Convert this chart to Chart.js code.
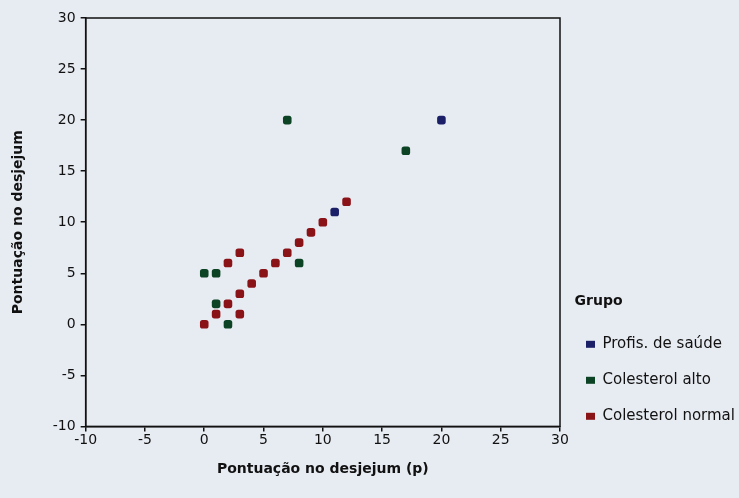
<!DOCTYPE html>
<html>
<head>
<meta charset="utf-8">
<script src="https://cdn.jsdelivr.net/npm/chart.js@4"></script>
<style>
  html, body { margin: 0; padding: 0; background: #e7ebf2; overflow: hidden; }
  #wrap { width: 739px; height: 498px; }
</style>
</head>
<body>
<div id="wrap"><canvas id="scatterChart"></canvas></div>
<script>
const groupNames = ['Profis. de saúde', 'Colesterol alto', 'Colesterol normal'];
const groupColors = ['#1b1f68', '#0c4324', '#8a1318'];

const profisX = [11, 20];
const profisY = [11, 20];
const altoX = [7, 17, 0, 1, 1, 2, 8];
const altoY = [20, 17, 5, 5, 2, 0, 6];
const normalX = [0, 1, 2, 3, 3, 4, 5, 6, 7, 8, 9, 10, 12, 2, 3];
const normalY = [0, 1, 2, 1, 3, 4, 5, 6, 7, 8, 9, 10, 12, 6, 7];

const axisTicks = [-10, -5, 0, 5, 10, 15, 20, 25, 30];

function toPoints(xs, ys) {
    return xs.map(function (x, i) { return { x: x, y: ys[i] }; });
}

// box round the plot area
const frame = {
    id: 'frame',
    afterDatasetsDraw: function (chart) {
        const a = chart.chartArea;
        const ctx = chart.ctx;
        ctx.save();
        ctx.strokeStyle = '#111';
        ctx.lineWidth = 1.5;
        ctx.strokeRect(a.left, a.top, a.right - a.left, a.bottom - a.top);
        ctx.restore();
    }
};

Chart.defaults.font.family = 'DejaVu Sans, sans-serif';
Chart.defaults.color = '#111';

const series = [toPoints(profisX, profisY), toPoints(altoX, altoY), toPoints(normalX, normalY)];

function fixedTicks(axis) {
    axis.ticks = axisTicks.map(function (v) { return { value: v }; });
}

new Chart(document.getElementById('scatterChart').getContext('2d'), {
    type: 'scatter',
    data: {
        datasets: series.map(function (pts, i) {
            return {
                label: groupNames[i],
                data: pts,
                backgroundColor: groupColors[i],
                borderColor: groupColors[i],
                pointStyle: 'rectRounded',
                pointRadius: 5,
                pointHoverRadius: 5,
                borderWidth: 0
            };
        })
    },
    options: {
        responsive: true,
        maintainAspectRatio: false,
        animation: false,
        layout: { padding: { top: 18, left: 0, right: -3, bottom: 16 } },
        plugins: {
            tooltip: { enabled: false },
            legend: {
                position: 'right',
                align: 'start',
                maxWidth: 182,
                title: {
                    display: true,
                    text: '   Grupo',
                    position: 'start',
                    font: { size: 14, weight: 'bold' },
                    padding: { top: 276, bottom: 0 }
                },
                labels: {
                    usePointStyle: true,
                    pointStyle: 'rect',
                    pointStyleWidth: 9,
                    boxHeight: 7,
                    padding: 26,
                    font: { size: 15, lineHeight: 10 / 15 },
                    color: '#111',
                    generateLabels: function (chart) {
                        const items = Chart.defaults.plugins.legend.labels.generateLabels(chart);
                        items.forEach(function (it) { it.text = [it.text]; });
                        return items;
                    }
                }
            }
        },
        scales: {
            x: {
                type: 'linear',
                min: -10,
                max: 30,
                afterBuildTicks: fixedTicks,
                grid: { drawOnChartArea: false, color: '#111', tickLength: 5, lineWidth: 1.5 },
                border: { color: '#111', width: 1.5 },
                ticks: { font: { size: 14 }, padding: 1, maxRotation: 0 },
                title: {
                    display: true,
                    text: 'Pontuação no desjejum (p)',
                    font: { size: 14, weight: 'bold' },
                    padding: { top: 11, bottom: 4 }
                }
            },
            y: {
                type: 'linear',
                min: -10,
                max: 30,
                afterBuildTicks: fixedTicks,
                grid: { drawOnChartArea: false, color: '#111', tickLength: 5, lineWidth: 1.5 },
                border: { color: '#111', width: 1.5 },
                ticks: { font: { size: 14 }, padding: 5 },
                title: {
                    display: true,
                    text: 'Pontuação no desjejum',
                    font: { size: 14, weight: 'bold' },
                    padding: { top: 10, bottom: 21 }
                }
            }
        }
    },
    plugins: [frame]
});
</script>
</body>
</html>
